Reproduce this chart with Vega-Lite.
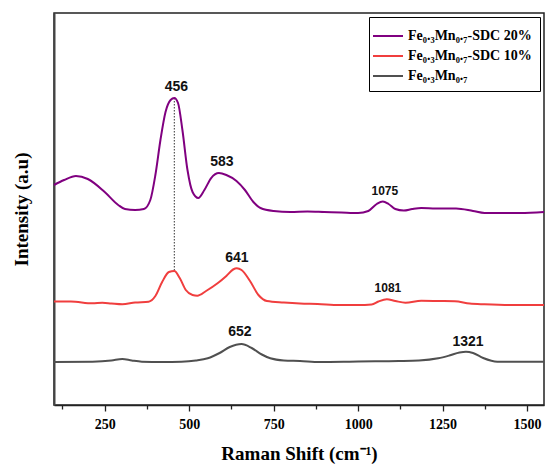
{
  "$schema": "https://vega.github.io/schema/vega-lite/v6.json",
  "autosize": {"type": "fit", "contains": "padding"},
  "width": 548,
  "height": 466,
  "padding": {"left": 12, "right": 0, "top": 13, "bottom": 3},
  "config": {
    "view": {"stroke": "#222", "strokeWidth": 1.5},
    "font": "Liberation Serif"
  },
  "datasets": {
    "spectra": [
      {"s": "Fe₀.₃Mn₀.₇-SDC 20%", "w": 100, "i": 220}, {"s": "Fe₀.₃Mn₀.₇-SDC 20%", "w": 130, "i": 225}, {"s": "Fe₀.₃Mn₀.₇-SDC 20%", "w": 165, "i": 229}, {"s": "Fe₀.₃Mn₀.₇-SDC 20%", "w": 200, "i": 226}, {"s": "Fe₀.₃Mn₀.₇-SDC 20%", "w": 250, "i": 213}, {"s": "Fe₀.₃Mn₀.₇-SDC 20%", "w": 290, "i": 200}, {"s": "Fe₀.₃Mn₀.₇-SDC 20%", "w": 310, "i": 196}, {"s": "Fe₀.₃Mn₀.₇-SDC 20%", "w": 340, "i": 195}, {"s": "Fe₀.₃Mn₀.₇-SDC 20%", "w": 366, "i": 196}, {"s": "Fe₀.₃Mn₀.₇-SDC 20%", "w": 385, "i": 205}, {"s": "Fe₀.₃Mn₀.₇-SDC 20%", "w": 400, "i": 230}, {"s": "Fe₀.₃Mn₀.₇-SDC 20%", "w": 415, "i": 265}, {"s": "Fe₀.₃Mn₀.₇-SDC 20%", "w": 430, "i": 293}, {"s": "Fe₀.₃Mn₀.₇-SDC 20%", "w": 445, "i": 305}, {"s": "Fe₀.₃Mn₀.₇-SDC 20%", "w": 456, "i": 307}, {"s": "Fe₀.₃Mn₀.₇-SDC 20%", "w": 467, "i": 302}, {"s": "Fe₀.₃Mn₀.₇-SDC 20%", "w": 480, "i": 275}, {"s": "Fe₀.₃Mn₀.₇-SDC 20%", "w": 495, "i": 235}, {"s": "Fe₀.₃Mn₀.₇-SDC 20%", "w": 510, "i": 213}, {"s": "Fe₀.₃Mn₀.₇-SDC 20%", "w": 527, "i": 207}, {"s": "Fe₀.₃Mn₀.₇-SDC 20%", "w": 545, "i": 215}, {"s": "Fe₀.₃Mn₀.₇-SDC 20%", "w": 565, "i": 227}, {"s": "Fe₀.₃Mn₀.₇-SDC 20%", "w": 588, "i": 232}, {"s": "Fe₀.₃Mn₀.₇-SDC 20%", "w": 610, "i": 230}, {"s": "Fe₀.₃Mn₀.₇-SDC 20%", "w": 640, "i": 224}, {"s": "Fe₀.₃Mn₀.₇-SDC 20%", "w": 665, "i": 215}, {"s": "Fe₀.₃Mn₀.₇-SDC 20%", "w": 690, "i": 203}, {"s": "Fe₀.₃Mn₀.₇-SDC 20%", "w": 711, "i": 197}, {"s": "Fe₀.₃Mn₀.₇-SDC 20%", "w": 750, "i": 194}, {"s": "Fe₀.₃Mn₀.₇-SDC 20%", "w": 800, "i": 193}, {"s": "Fe₀.₃Mn₀.₇-SDC 20%", "w": 850, "i": 193.5}, {"s": "Fe₀.₃Mn₀.₇-SDC 20%", "w": 900, "i": 193}, {"s": "Fe₀.₃Mn₀.₇-SDC 20%", "w": 950, "i": 192.5}, {"s": "Fe₀.₃Mn₀.₇-SDC 20%", "w": 1000, "i": 192}, {"s": "Fe₀.₃Mn₀.₇-SDC 20%", "w": 1030, "i": 194}, {"s": "Fe₀.₃Mn₀.₇-SDC 20%", "w": 1055, "i": 201}, {"s": "Fe₀.₃Mn₀.₇-SDC 20%", "w": 1073, "i": 203.5}, {"s": "Fe₀.₃Mn₀.₇-SDC 20%", "w": 1090, "i": 201}, {"s": "Fe₀.₃Mn₀.₇-SDC 20%", "w": 1110, "i": 196}, {"s": "Fe₀.₃Mn₀.₇-SDC 20%", "w": 1135, "i": 194.5}, {"s": "Fe₀.₃Mn₀.₇-SDC 20%", "w": 1160, "i": 196}, {"s": "Fe₀.₃Mn₀.₇-SDC 20%", "w": 1187, "i": 197}, {"s": "Fe₀.₃Mn₀.₇-SDC 20%", "w": 1230, "i": 196.5}, {"s": "Fe₀.₃Mn₀.₇-SDC 20%", "w": 1290, "i": 196.5}, {"s": "Fe₀.₃Mn₀.₇-SDC 20%", "w": 1340, "i": 194}, {"s": "Fe₀.₃Mn₀.₇-SDC 20%", "w": 1374, "i": 192}, {"s": "Fe₀.₃Mn₀.₇-SDC 20%", "w": 1420, "i": 192}, {"s": "Fe₀.₃Mn₀.₇-SDC 20%", "w": 1480, "i": 192}, {"s": "Fe₀.₃Mn₀.₇-SDC 20%", "w": 1550, "i": 193},

      {"s": "Fe₀.₃Mn₀.₇-SDC 10%", "w": 100, "i": 103.5}, {"s": "Fe₀.₃Mn₀.₇-SDC 10%", "w": 150, "i": 103.5}, {"s": "Fe₀.₃Mn₀.₇-SDC 10%", "w": 214, "i": 101.7}, {"s": "Fe₀.₃Mn₀.₇-SDC 10%", "w": 243, "i": 102.3}, {"s": "Fe₀.₃Mn₀.₇-SDC 10%", "w": 270, "i": 101.5}, {"s": "Fe₀.₃Mn₀.₇-SDC 10%", "w": 302, "i": 100.7}, {"s": "Fe₀.₃Mn₀.₇-SDC 10%", "w": 340, "i": 102.5}, {"s": "Fe₀.₃Mn₀.₇-SDC 10%", "w": 380, "i": 103.3}, {"s": "Fe₀.₃Mn₀.₇-SDC 10%", "w": 400, "i": 109}, {"s": "Fe₀.₃Mn₀.₇-SDC 10%", "w": 420, "i": 123}, {"s": "Fe₀.₃Mn₀.₇-SDC 10%", "w": 440, "i": 133}, {"s": "Fe₀.₃Mn₀.₇-SDC 10%", "w": 456, "i": 134}, {"s": "Fe₀.₃Mn₀.₇-SDC 10%", "w": 472, "i": 127}, {"s": "Fe₀.₃Mn₀.₇-SDC 10%", "w": 490, "i": 115}, {"s": "Fe₀.₃Mn₀.₇-SDC 10%", "w": 510, "i": 110}, {"s": "Fe₀.₃Mn₀.₇-SDC 10%", "w": 524, "i": 109.3}, {"s": "Fe₀.₃Mn₀.₇-SDC 10%", "w": 550, "i": 114}, {"s": "Fe₀.₃Mn₀.₇-SDC 10%", "w": 584, "i": 121.7}, {"s": "Fe₀.₃Mn₀.₇-SDC 10%", "w": 610, "i": 129}, {"s": "Fe₀.₃Mn₀.₇-SDC 10%", "w": 630, "i": 135.5}, {"s": "Fe₀.₃Mn₀.₇-SDC 10%", "w": 641, "i": 136.7}, {"s": "Fe₀.₃Mn₀.₇-SDC 10%", "w": 655, "i": 135}, {"s": "Fe₀.₃Mn₀.₇-SDC 10%", "w": 680, "i": 124}, {"s": "Fe₀.₃Mn₀.₇-SDC 10%", "w": 705, "i": 110}, {"s": "Fe₀.₃Mn₀.₇-SDC 10%", "w": 730, "i": 104}, {"s": "Fe₀.₃Mn₀.₇-SDC 10%", "w": 780, "i": 102.5}, {"s": "Fe₀.₃Mn₀.₇-SDC 10%", "w": 828, "i": 101.5}, {"s": "Fe₀.₃Mn₀.₇-SDC 10%", "w": 880, "i": 101}, {"s": "Fe₀.₃Mn₀.₇-SDC 10%", "w": 945, "i": 100}, {"s": "Fe₀.₃Mn₀.₇-SDC 10%", "w": 1000, "i": 100}, {"s": "Fe₀.₃Mn₀.₇-SDC 10%", "w": 1040, "i": 100.5}, {"s": "Fe₀.₃Mn₀.₇-SDC 10%", "w": 1060, "i": 103.5}, {"s": "Fe₀.₃Mn₀.₇-SDC 10%", "w": 1085, "i": 105.7}, {"s": "Fe₀.₃Mn₀.₇-SDC 10%", "w": 1110, "i": 104}, {"s": "Fe₀.₃Mn₀.₇-SDC 10%", "w": 1140, "i": 102.3}, {"s": "Fe₀.₃Mn₀.₇-SDC 10%", "w": 1187, "i": 104.3}, {"s": "Fe₀.₃Mn₀.₇-SDC 10%", "w": 1240, "i": 104}, {"s": "Fe₀.₃Mn₀.₇-SDC 10%", "w": 1286, "i": 103.7}, {"s": "Fe₀.₃Mn₀.₇-SDC 10%", "w": 1330, "i": 101.5}, {"s": "Fe₀.₃Mn₀.₇-SDC 10%", "w": 1374, "i": 100.7}, {"s": "Fe₀.₃Mn₀.₇-SDC 10%", "w": 1450, "i": 100}, {"s": "Fe₀.₃Mn₀.₇-SDC 10%", "w": 1550, "i": 100},

      {"s": "Fe₀.₃Mn₀.₇", "w": 100, "i": 43}, {"s": "Fe₀.₃Mn₀.₇", "w": 214, "i": 43.3}, {"s": "Fe₀.₃Mn₀.₇", "w": 270, "i": 44.5}, {"s": "Fe₀.₃Mn₀.₇", "w": 302, "i": 46}, {"s": "Fe₀.₃Mn₀.₇", "w": 330, "i": 44.5}, {"s": "Fe₀.₃Mn₀.₇", "w": 360, "i": 43.3}, {"s": "Fe₀.₃Mn₀.₇", "w": 420, "i": 43}, {"s": "Fe₀.₃Mn₀.₇", "w": 477, "i": 43.3}, {"s": "Fe₀.₃Mn₀.₇", "w": 520, "i": 44.5}, {"s": "Fe₀.₃Mn₀.₇", "w": 555, "i": 46.7}, {"s": "Fe₀.₃Mn₀.₇", "w": 590, "i": 52}, {"s": "Fe₀.₃Mn₀.₇", "w": 620, "i": 58}, {"s": "Fe₀.₃Mn₀.₇", "w": 655, "i": 61}, {"s": "Fe₀.₃Mn₀.₇", "w": 685, "i": 57}, {"s": "Fe₀.₃Mn₀.₇", "w": 715, "i": 50.5}, {"s": "Fe₀.₃Mn₀.₇", "w": 740, "i": 46.7}, {"s": "Fe₀.₃Mn₀.₇", "w": 780, "i": 44.5}, {"s": "Fe₀.₃Mn₀.₇", "w": 828, "i": 44}, {"s": "Fe₀.₃Mn₀.₇", "w": 886, "i": 43}, {"s": "Fe₀.₃Mn₀.₇", "w": 974, "i": 43.3}, {"s": "Fe₀.₃Mn₀.₇", "w": 1050, "i": 43.7}, {"s": "Fe₀.₃Mn₀.₇", "w": 1120, "i": 44}, {"s": "Fe₀.₃Mn₀.₇", "w": 1180, "i": 44.5}, {"s": "Fe₀.₃Mn₀.₇", "w": 1237, "i": 46.7}, {"s": "Fe₀.₃Mn₀.₇", "w": 1270, "i": 49.5}, {"s": "Fe₀.₃Mn₀.₇", "w": 1300, "i": 52.5}, {"s": "Fe₀.₃Mn₀.₇", "w": 1319, "i": 53.3}, {"s": "Fe₀.₃Mn₀.₇", "w": 1340, "i": 52}, {"s": "Fe₀.₃Mn₀.₇", "w": 1370, "i": 47}, {"s": "Fe₀.₃Mn₀.₇", "w": 1412, "i": 43.3}, {"s": "Fe₀.₃Mn₀.₇", "w": 1480, "i": 43.3}, {"s": "Fe₀.₃Mn₀.₇", "w": 1550, "i": 43.3}
    ],
    "peaks": [
      {"t": "456", "w": 462, "i": 318, "small": false},
      {"t": "583", "w": 597, "i": 243, "small": false},
      {"t": "1075", "w": 1079, "i": 214, "small": true},
      {"t": "641", "w": 641, "i": 147, "small": false},
      {"t": "1081", "w": 1088, "i": 117, "small": true},
      {"t": "652", "w": 650, "i": 73, "small": false},
      {"t": "1321", "w": 1325, "i": 63, "small": false}
    ],
    "guide": [{"w": 456, "top": 307, "bottom": 134}]
  },
  "layer": [
    {
      "data": {"name": "guide"},
      "mark": {"type": "rule", "color": "#333", "strokeWidth": 1, "strokeDash": [1.5, 1.5]},
      "encoding": {
        "x": {"field": "w", "type": "quantitative"},
        "y": {"field": "top", "type": "quantitative"},
        "y2": {"field": "bottom"}
      }
    },
    {
      "data": {"name": "spectra"},
      "mark": {"type": "line", "interpolate": "monotone", "strokeWidth": 2},
      "encoding": {
        "x": {
          "field": "w", "type": "quantitative",
          "scale": {"domain": [100, 1550], "nice": false, "zero": false},
          "axis": {
            "title": "Raman Shift (cm⁻¹)",
            "titleFont": "Liberation Serif", "titleFontSize": 19, "titleFontWeight": "bold", "titleColor": "#000", "titlePadding": 13,
            "values": [125, 250, 375, 500, 625, 750, 875, 1000, 1125, 1250, 1375, 1500],
            "format": "d",
            "labelExpr": "datum.value % 250 === 0 ? datum.label : ''",
            "labelFont": "Liberation Serif", "labelFontSize": 14, "labelFontWeight": "bold", "labelColor": "#000", "labelPadding": 6,
            "tickSize": {"condition": {"test": "datum.value % 250 === 0", "value": 6}, "value": 4},
            "tickColor": "#222", "tickWidth": 1.3,
            "domainColor": "#222", "domainWidth": 1.5,
            "grid": false
          }
        },
        "y": {
          "field": "i", "type": "quantitative",
          "scale": {"domain": [0, 392], "nice": false},
          "axis": {
            "title": "Intensity (a.u)",
            "titleFont": "Liberation Serif", "titleFontSize": 19, "titleFontWeight": "bold", "titleColor": "#000", "titlePadding": 23,
            "labels": false, "ticks": false, "grid": false,
            "domainColor": "#444", "domainWidth": 2
          }
        },
        "color": {
          "field": "s", "type": "nominal",
          "scale": {
            "domain": ["Fe₀.₃Mn₀.₇-SDC 20%", "Fe₀.₃Mn₀.₇-SDC 10%", "Fe₀.₃Mn₀.₇"],
            "range": ["#800080", "#f03e3e", "#505050"]
          },
          "legend": {
            "title": null,
            "orient": "top-right",
            "offset": 4,
            "symbolType": "M-1.5,0H1.5",
            "symbolSize": 400,
            "symbolStrokeWidth": 2,
            "labelOffset": 9,
            "labelFont": "Liberation Serif", "labelFontSize": 14, "labelFontWeight": "bold", "labelColor": "#000",
            "labelLimit": 300,
            "rowPadding": 2,
            "padding": 8,
            "strokeColor": "#000",
            "fillColor": "#fff",
            "cornerRadius": 0
          }
        }
      }
    },
    {
      "data": {"name": "peaks"},
      "transform": [{"filter": "!datum.small"}],
      "mark": {"type": "text", "font": "Liberation Sans", "fontWeight": "bold", "fontSize": 14, "baseline": "middle", "align": "center", "color": "#111"},
      "encoding": {
        "x": {"field": "w", "type": "quantitative"},
        "y": {"field": "i", "type": "quantitative"},
        "text": {"field": "t"}
      }
    },
    {
      "data": {"name": "peaks"},
      "transform": [{"filter": "datum.small"}],
      "mark": {"type": "text", "font": "Liberation Sans", "fontWeight": "bold", "fontSize": 12, "baseline": "middle", "align": "center", "color": "#111"},
      "encoding": {
        "x": {"field": "w", "type": "quantitative"},
        "y": {"field": "i", "type": "quantitative"},
        "text": {"field": "t"}
      }
    }
  ]
}
